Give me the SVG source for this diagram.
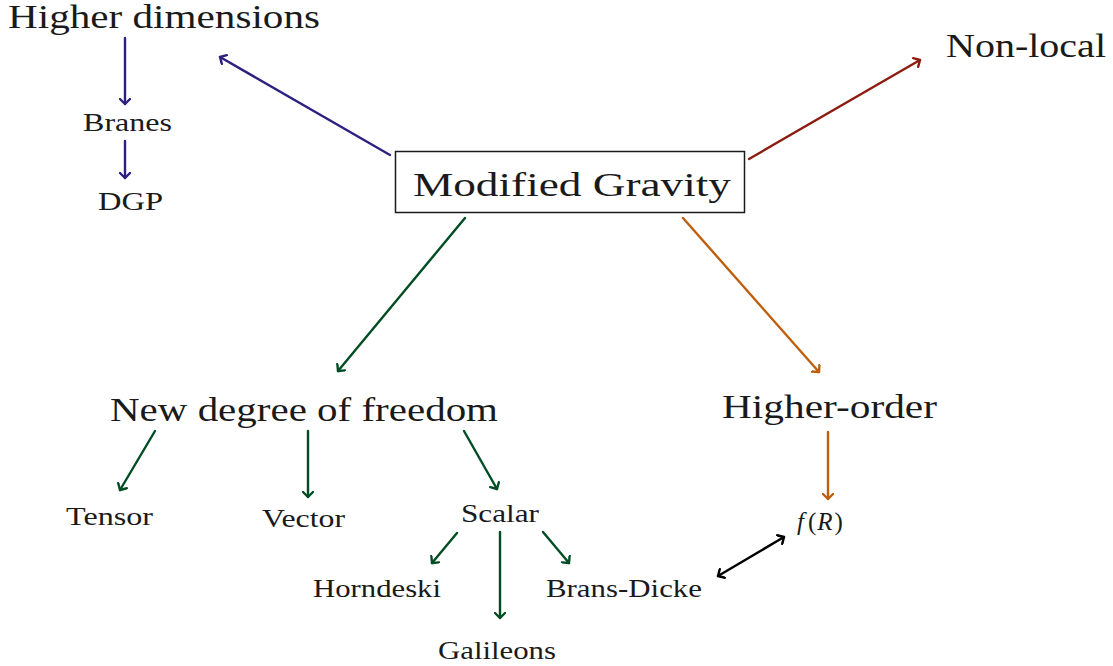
<svg xmlns="http://www.w3.org/2000/svg" width="1113" height="666" viewBox="0 0 1113 666">
<style>
text{font-family:"Liberation Serif","DejaVu Serif",serif;fill:#1a1a1a}
.big{font-size:34px}
.small{font-size:25px}
.c{stroke-width:2.4;fill:none;stroke-linecap:round}
.blue{stroke:#2c2180}
.red{stroke:#8c1c10}
.green{stroke:#004d24}
.orange{stroke:#bf5f0c}
.black{stroke:#000}
</style>
<defs>
<marker id="ab" viewBox="-6 -6 12 12" markerWidth="12" markerHeight="12" refX="0" refY="0" orient="auto-start-reverse" markerUnits="userSpaceOnUse"><path d="M-5,-5 L0,0 L-5,5" fill="none" stroke="#2c2180" stroke-width="2.4" stroke-linecap="round" stroke-linejoin="round"/></marker>
<marker id="ar" viewBox="-6 -6 12 12" markerWidth="12" markerHeight="12" refX="0" refY="0" orient="auto-start-reverse" markerUnits="userSpaceOnUse"><path d="M-5,-5 L0,0 L-5,5" fill="none" stroke="#8c1c10" stroke-width="2.4" stroke-linecap="round" stroke-linejoin="round"/></marker>
<marker id="ag" viewBox="-6 -6 12 12" markerWidth="12" markerHeight="12" refX="0" refY="0" orient="auto-start-reverse" markerUnits="userSpaceOnUse"><path d="M-5,-5 L0,0 L-5,5" fill="none" stroke="#004d24" stroke-width="2.4" stroke-linecap="round" stroke-linejoin="round"/></marker>
<marker id="ao" viewBox="-6 -6 12 12" markerWidth="12" markerHeight="12" refX="0" refY="0" orient="auto-start-reverse" markerUnits="userSpaceOnUse"><path d="M-5,-5 L0,0 L-5,5" fill="none" stroke="#bf5f0c" stroke-width="2.4" stroke-linecap="round" stroke-linejoin="round"/></marker>
<marker id="ak" viewBox="-6 -6 12 12" markerWidth="12" markerHeight="12" refX="0" refY="0" orient="auto-start-reverse" markerUnits="userSpaceOnUse"><path d="M-5,-5 L0,0 L-5,5" fill="none" stroke="#000" stroke-width="2.4" stroke-linecap="round" stroke-linejoin="round"/></marker>
</defs>
<rect width="1113" height="666" fill="#fff"/>
<g id="connectors">
<line class="c blue" x1="390" y1="155" x2="220" y2="57" marker-end="url(#ab)"/>
<line class="c blue" x1="125" y1="38" x2="125" y2="104" marker-end="url(#ab)"/>
<line class="c blue" x1="125" y1="141" x2="125" y2="178" marker-end="url(#ab)"/>
<line class="c red" x1="749" y1="159" x2="920" y2="60" marker-end="url(#ar)"/>
<line class="c green" x1="465" y1="218" x2="338" y2="371" marker-end="url(#ag)"/>
<line class="c green" x1="155" y1="431" x2="120" y2="490" marker-end="url(#ag)"/>
<line class="c green" x1="308" y1="431" x2="308" y2="497" marker-end="url(#ag)"/>
<line class="c green" x1="464" y1="431" x2="497" y2="489" marker-end="url(#ag)"/>
<line class="c green" x1="457" y1="533" x2="432" y2="563" marker-end="url(#ag)"/>
<line class="c green" x1="500" y1="532" x2="500" y2="618" marker-end="url(#ag)"/>
<line class="c green" x1="543" y1="532" x2="569" y2="563" marker-end="url(#ag)"/>
<line class="c orange" x1="683" y1="218" x2="819" y2="372" marker-end="url(#ao)"/>
<line class="c orange" x1="828" y1="432" x2="828" y2="499" marker-end="url(#ao)"/>
<line class="c black" x1="718" y1="576" x2="784" y2="537" marker-start="url(#ak)" marker-end="url(#ak)"/>
</g>
<g id="n-modified">
<rect x="395.5" y="151.5" width="349" height="61" fill="#fff" stroke="#1a1a1a" stroke-width="1.5"/>
<text class="big" x="413" y="196" textLength="318" lengthAdjust="spacingAndGlyphs">Modified Gravity</text>
</g>
<g id="n-higherdim"><text class="big" x="8" y="28" textLength="312" lengthAdjust="spacingAndGlyphs">Higher dimensions</text></g>
<g id="n-branes"><text class="small" x="83" y="131" textLength="89" lengthAdjust="spacingAndGlyphs">Branes</text></g>
<g id="n-dgp"><text class="small" x="98" y="210" textLength="65" lengthAdjust="spacingAndGlyphs">DGP</text></g>
<g id="n-nonlocal"><text class="big" x="946" y="57" textLength="160" lengthAdjust="spacingAndGlyphs">Non-local</text></g>
<g id="n-newdof"><text class="big" x="110" y="421" textLength="388" lengthAdjust="spacingAndGlyphs">New degree of freedom</text></g>
<g id="n-higherorder"><text class="big" x="722" y="418" textLength="215" lengthAdjust="spacingAndGlyphs">Higher-order</text></g>
<g id="n-tensor"><text class="small" x="66" y="525" textLength="87" lengthAdjust="spacingAndGlyphs">Tensor</text></g>
<g id="n-vector"><text class="small" x="262" y="527" textLength="83" lengthAdjust="spacingAndGlyphs">Vector</text></g>
<g id="n-scalar"><text class="small" x="461" y="522" textLength="78" lengthAdjust="spacingAndGlyphs">Scalar</text></g>
<g id="n-horndeski"><text class="small" x="313" y="597" textLength="128" lengthAdjust="spacingAndGlyphs">Horndeski</text></g>
<g id="n-bransdicke"><text class="small" x="546" y="597" textLength="156" lengthAdjust="spacingAndGlyphs">Brans-Dicke</text></g>
<g id="n-galileons"><text class="small" x="438" y="659" textLength="118" lengthAdjust="spacingAndGlyphs">Galileons</text></g>
<g id="n-fr"><text class="small" x="797" y="530" font-size="26px"><tspan font-style="italic">f</tspan><tspan dx="4">(</tspan><tspan font-style="italic" dx="1">R</tspan><tspan dx="2">)</tspan></text></g>
</svg>
